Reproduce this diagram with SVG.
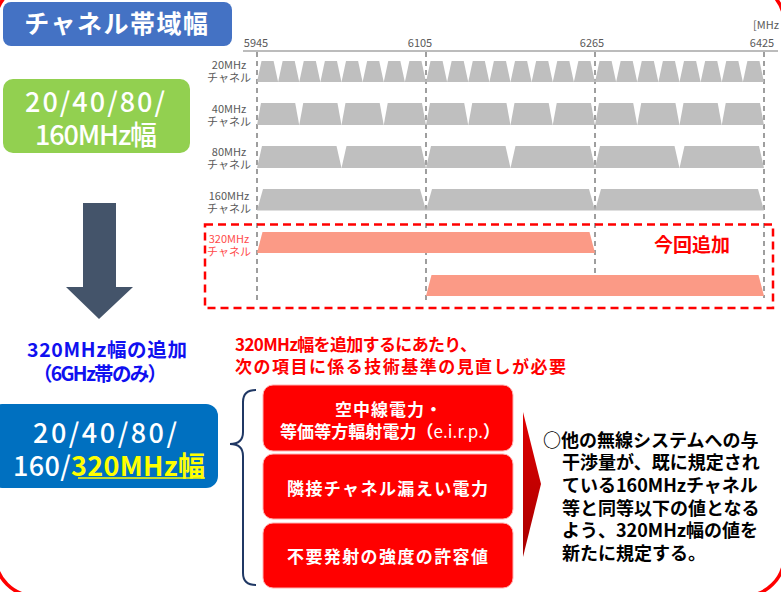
<svg xmlns="http://www.w3.org/2000/svg" xmlns:xlink="http://www.w3.org/1999/xlink" width="781" height="592" viewBox="0 0 781 592">
<style>
text{font-family:"Noto Sans CJK JP","Noto Sans",sans-serif}
.lbl{font-size:11px;fill:#595959;text-anchor:middle}
.lblr{font-size:11px;fill:#FF4B4B;text-anchor:middle}
.ax{font-size:11px;fill:#595959}
.g{fill:#BFBFBF}
.s{fill:#FB9A86}
.dash{stroke:#7F7F7F;stroke-width:1.5;stroke-dasharray:5 4;fill:none}
.wbig{font-size:27px;fill:#fff;font-weight:500}
.box{fill:#FF0000;stroke:#FFB0B0;stroke-width:1}
.bt{font-size:17px;font-weight:bold;fill:#fff}
.rt{font-size:17px;font-weight:bold;fill:#FF0000}
.kt{font-size:18px;font-weight:bold;fill:#000}
.bl{font-size:19.5px;font-weight:bold;fill:#1010F0}
</style>
<defs>
<polygon id="t20" points="0,21 4.5,0 16.6,0 21.1,21"/>
<polygon id="t40" points="0,22 4,0 38.2,0 42.2,22"/>
<polygon id="t80" points="0,22 5,0 79.5,0 84.5,22"/>
<polygon id="t160" points="0,21.5 6,0 163,0 169,21.5"/>
<polygon id="t320" points="0,21 5.5,0 332.5,0 338,21"/>
<linearGradient id="ag" x1="0" y1="0" x2="0" y2="1">
<stop offset="0" stop-color="#E00000"/>
<stop offset="1" stop-color="#A80000"/>
</linearGradient>
</defs>

<rect x="-4.7" y="-17" width="789" height="613" rx="40" fill="none" stroke="#FF0000" stroke-width="3.5"/>

<g id="title">
<rect x="3" y="2" width="229" height="44" rx="8" fill="#4472C4"/>
<text x="117" y="33" font-size="25" font-weight="bold" fill="#fff" text-anchor="middle" letter-spacing="1.5">チャネル帯域幅</text>
</g>

<g id="axis">
<line x1="243" y1="51" x2="778" y2="51" stroke="#A6A6A6" stroke-width="1.5"/>
<text class="ax" x="256" y="46.5" text-anchor="middle">5945</text>
<text class="ax" x="420" y="46.5" text-anchor="middle">6105</text>
<text class="ax" x="592" y="46.5" text-anchor="middle">6265</text>
<text class="ax" x="762" y="46.5" text-anchor="middle">6425</text>
<text class="ax" x="753" y="29">[MHz</text>
</g>

<g id="grid">
<line class="dash" x1="257" y1="52" x2="257" y2="302"/>
<line class="dash" x1="426" y1="52" x2="426" y2="302"/>
<line class="dash" x1="595" y1="52" x2="595" y2="276"/>
<line class="dash" x1="764" y1="52" x2="764" y2="298"/>
</g>

<g id="row20">
<text class="lbl" x="229" y="69">20MHz</text>
<text class="lbl" x="229" y="82">チャネル</text>
<g class="g">
<use href="#t20" x="257" y="61"/><use href="#t20" x="278.125" y="61"/><use href="#t20" x="299.25" y="61"/><use href="#t20" x="320.375" y="61"/>
<use href="#t20" x="341.5" y="61"/><use href="#t20" x="362.625" y="61"/><use href="#t20" x="383.75" y="61"/><use href="#t20" x="404.875" y="61"/>
<use href="#t20" x="426" y="61"/><use href="#t20" x="447.125" y="61"/><use href="#t20" x="468.25" y="61"/><use href="#t20" x="489.375" y="61"/>
<use href="#t20" x="510.5" y="61"/><use href="#t20" x="531.625" y="61"/><use href="#t20" x="552.75" y="61"/><use href="#t20" x="573.875" y="61"/>
<use href="#t20" x="595" y="61"/><use href="#t20" x="616.125" y="61"/><use href="#t20" x="637.25" y="61"/><use href="#t20" x="658.375" y="61"/>
<use href="#t20" x="679.5" y="61"/><use href="#t20" x="700.625" y="61"/><use href="#t20" x="721.75" y="61"/><use href="#t20" x="742.875" y="61"/>
</g>
</g>

<g id="row40">
<text class="lbl" x="229" y="113">40MHz</text>
<text class="lbl" x="229" y="126">チャネル</text>
<g class="g">
<use href="#t40" x="257" y="103"/><use href="#t40" x="299.25" y="103"/><use href="#t40" x="341.5" y="103"/><use href="#t40" x="383.75" y="103"/>
<use href="#t40" x="426" y="103"/><use href="#t40" x="468.25" y="103"/><use href="#t40" x="510.5" y="103"/><use href="#t40" x="552.75" y="103"/>
<use href="#t40" x="595" y="103"/><use href="#t40" x="637.25" y="103"/><use href="#t40" x="679.5" y="103"/><use href="#t40" x="721.75" y="103"/>
</g>
</g>

<g id="row80">
<text class="lbl" x="229" y="156">80MHz</text>
<text class="lbl" x="229" y="169">チャネル</text>
<g class="g">
<use href="#t80" x="257" y="146"/><use href="#t80" x="341.5" y="146"/><use href="#t80" x="426" y="146"/>
<use href="#t80" x="510.5" y="146"/><use href="#t80" x="595" y="146"/><use href="#t80" x="679.5" y="146"/>
</g>
</g>

<g id="row160">
<text class="lbl" x="229" y="200">160MHz</text>
<text class="lbl" x="229" y="213">チャネル</text>
<g class="g">
<use href="#t160" x="257" y="189"/><use href="#t160" x="426" y="189"/><use href="#t160" x="595" y="189"/>
</g>
</g>

<g id="row320">
<rect x="205" y="224.5" width="568" height="83.5" fill="none" stroke="#FF0000" stroke-width="2.5" stroke-dasharray="8 5"/>
<text class="lblr" x="229" y="243">320MHz</text>
<text class="lblr" x="229" y="256">チャネル</text>
<use class="s" href="#t320" x="257" y="232"/>
<use class="s" href="#t320" x="426" y="275"/>
<text x="692" y="252" font-size="19" font-weight="bold" fill="#FF0000" text-anchor="middle">今回追加</text>
</g>

<g id="current">
<rect x="3" y="79" width="187" height="74" rx="10" fill="#92D050"/>
<text class="wbig" x="25" y="112" textLength="140">20/40/80/</text>
<text class="wbig" x="35" y="145" textLength="122">160MHz幅</text>
</g>

<g id="connectors">
<polygon points="83,203 116,203 116,287 133,287 99,319 66,287 83,287" fill="#44546A"/>
<path d="M256,390 Q243,390 243,402 L243,432 Q243,444 230,444 Q243,444 243,456 L243,573 Q243,585 256,585" fill="none" stroke="#203864" stroke-width="2"/>
<polygon points="523,412 541,484 523,557" fill="url(#ag)"/>
</g>

<g id="addnote">
<text class="bl" x="27" y="357" textLength="160">320MHz幅の追加</text>
<text class="bl" x="33" y="381" textLength="134">（6GHz帯のみ）</text>
</g>

<g id="new">
<rect x="-10" y="404" width="228" height="84" rx="12" fill="#0070C0"/>
<text class="wbig" x="33" y="443" textLength="144">20/40/80/</text>
<text class="wbig" x="13" y="476" textLength="192">160/<tspan fill="#FFFF00" font-weight="bold">320MHz幅</tspan></text>
<line x1="78" y1="478" x2="205" y2="478" stroke="#FFFF00" stroke-width="1.5"/>
</g>

<g id="need">
<text class="rt" x="235" y="351" textLength="242">320MHz幅を追加するにあたり、</text>
<text class="rt" x="235" y="373" textLength="331">次の項目に係る技術基準の見直しが必要</text>
</g>

<g id="item1">
<rect class="box" x="263" y="385" width="250" height="66" rx="10"/>
<text class="bt" x="335" y="416" textLength="107">空中線電力・</text>
<text class="bt" x="280" y="438" textLength="220">等価等方輻射電力（<tspan font-weight="normal">e.i.r.p.</tspan>）</text>
</g>
<g id="item2">
<rect class="box" x="263" y="454" width="250" height="65" rx="10"/>
<text class="bt" x="287" y="495" textLength="201">隣接チャネル漏えい電力</text>
</g>
<g id="item3">
<rect class="box" x="263" y="523" width="250" height="65" rx="10"/>
<text class="bt" x="287" y="563" textLength="201">不要発射の強度の許容値</text>
</g>

<g id="result">
<text class="kt" x="543" y="446.5">○他の無線システムへの与</text>
<text class="kt" x="562" y="469">干渉量が、既に規定され</text>
<text class="kt" x="562" y="492">ている160MHzチャネル</text>
<text class="kt" x="562" y="514.5">等と同等以下の値となる</text>
<text class="kt" x="562" y="537">よう、320MHz幅の値を</text>
<text class="kt" x="562" y="559.5">新たに規定する。</text>
</g>
</svg>
